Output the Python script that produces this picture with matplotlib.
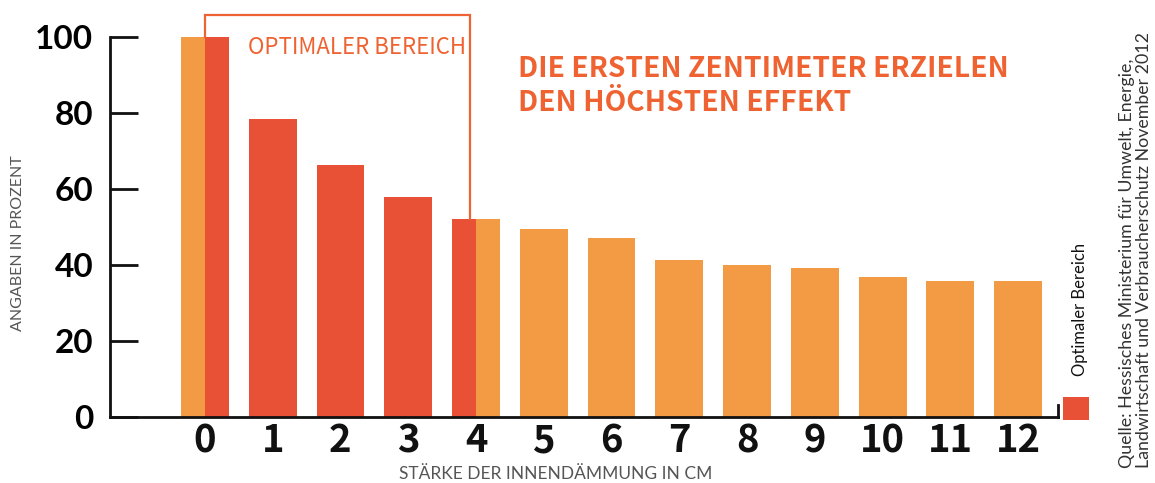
import matplotlib
matplotlib.use("Agg")
import matplotlib.pyplot as plt
import matplotlib.transforms as mtransforms
from matplotlib.patches import Rectangle

# Daten: Stärke der Innendämmung (cm) vs. Angaben in Prozent
thickness_cm = list(range(13))
share_pct = [100, 78.4, 66.3, 57.9, 52.1, 49.5, 47.1, 41.3, 40.0, 39.2, 36.8, 35.8, 35.8]
optimal_range = (0, 4)  # optimaler Bereich in cm
y_ticks = [0, 20, 40, 60, 80, 100]

title_lines = ["DIE ERSTEN ZENTIMETER ERZIELEN", "DEN HÖCHSTEN EFFEKT"]
bracket_label = "OPTIMALER BEREICH"
y_label = "ANGABEN IN PROZENT"
x_label = "STÄRKE DER INNENDÄMMUNG IN CM"
legend_label = "Optimaler Bereich"
source_text = ("Quelle: Hessisches Ministerium für Umwelt, Energie,\n"
               "Landwirtschaft und Verbraucherschutz November 2012")

RED = "#E85136"
ORANGE = "#F39A45"
ACCENT = "#EE6331"
GRAY = "#555555"

W, H = 1155, 483
SANS = ["Lato", "DejaVu Sans"]
NARROW = ["Noto Sans CJK SC", "DejaVu Sans"]


def px(x, y):
    """pixel position (from top-left) -> figure fraction"""
    return x / W, 1 - y / H


fig = plt.figure(figsize=(W / 100, H / 100), dpi=100)
ax = fig.add_axes([110 / W, (H - 417) / H, 948 / W, 380 / H])

bar_w = 0.708
lo, hi = optimal_range
for x, v in zip(thickness_cm, share_pct):
    left_col = RED if lo < x <= hi else ORANGE
    right_col = RED if lo <= x < hi else ORANGE
    ax.bar(x - bar_w / 2, v, width=bar_w / 2, align="edge", color=left_col, linewidth=0)
    ax.bar(x, v, width=bar_w / 2, align="edge", color=right_col, linewidth=0)

ax.set_xlim(-1.402, 12.59)
ax.set_ylim(0, 100)

for s in ["top", "right"]:
    ax.spines[s].set_visible(False)
for s in ["left", "bottom"]:
    ax.spines[s].set_linewidth(2)
    ax.spines[s].set_color("#111111")
    ax.spines[s].set_capstyle("projecting")

# small end mark at the right of the baseline
trans = mtransforms.blended_transform_factory(ax.transAxes, ax.transData)
ax.plot([1, 1], [0, 3.2], transform=trans, color="#111111", lw=2, clip_on=False,
        solid_capstyle="projecting")

ax.set_yticks(y_ticks)
ax.set_yticklabels([str(t) for t in y_ticks], fontsize=24, fontweight="bold",
                   family=SANS)
ax.tick_params(axis="y", direction="in", length=20, width=2, pad=12,
               color="#111111")
ax.set_xticks(thickness_cm)
ax.set_xticklabels([str(t) for t in thickness_cm], fontsize=27.5, family=NARROW,
                   fontweight="bold", color="#111111")
ax.tick_params(axis="x", length=0, pad=3)

# bracket for the optimal range
bx_right = hi - 0.09
ax.plot([lo, lo, bx_right, bx_right], [share_pct[lo], 105.8, 105.8, share_pct[hi]],
        color=ACCENT, lw=1.6, clip_on=False, solid_joinstyle="miter")

fig.text(*px(248, 47), bracket_label, color=ACCENT, family=NARROW,
         fontsize=16, va="center", ha="left")

fig.text(*px(518, 86), "\n".join(title_lines), color=ACCENT, family=NARROW,
         fontweight="bold", fontsize=20.3, va="center", ha="left",
         linespacing=1.3)

fig.text(*px(18, 243), y_label, rotation=90, color=GRAY, fontsize=11.5,
         family=SANS, va="center", ha="center")
fig.text(*px(556, 466), x_label, color=GRAY, fontsize=12.5, family=SANS,
         va="top", ha="center")

# legend
fig.patches.append(Rectangle(px(1063, 420), 26 / W, 23 / H, transform=fig.transFigure,
                             color=RED, linewidth=0))
fig.text(*px(1080, 376), legend_label, rotation=90, color="#111111", fontsize=12,
         family=SANS, va="bottom", ha="center")

fig.text(*px(1119, 468), source_text, rotation=90, color="#333333", fontsize=12.8,
         family=SANS, va="bottom", ha="left", multialignment="left",
         linespacing=1.1)

fig.savefig("out.png", dpi=100)
